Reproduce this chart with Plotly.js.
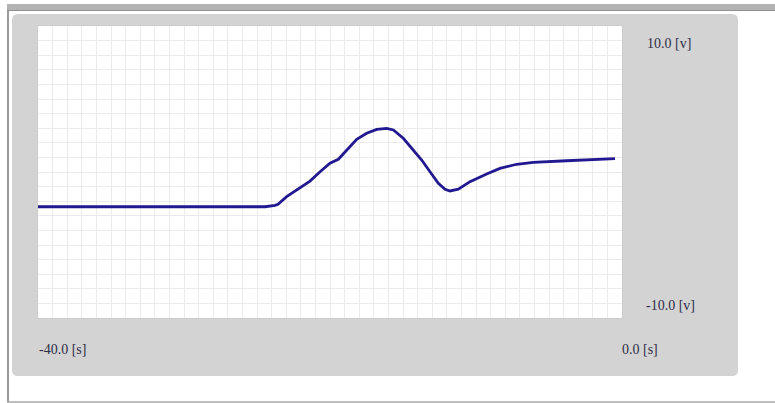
<!DOCTYPE html>
<html>
<head>
<meta charset="utf-8">
<script src="https://cdn.plot.ly/plotly-3.0.1.min.js"></script>
<style>
  html, body { margin: 0; padding: 0; background: #ffffff; }
  #chart { width: 775px; height: 403px; }
</style>
</head>
<body>
<div id="chart"></div>
<script>
// Time (s) and signal (v) values
const timeS = [-40, -24.45, -23.77, -23.56, -22.97, -22.05, -21.37, -20.68, -20.0, -19.43,
  -18.86, -18.17, -17.49, -16.8, -16.12, -15.66, -14.98, -14.29, -13.72, -13.15,
  -12.58, -12.12, -11.78, -11.21, -10.41, -9.27, -8.36, -7.21, -6.08, -3.79, -1.51, -0.48];
const signalV = [-2.38, -2.38, -2.29, -2.21, -1.69, -1.05, -0.62, 0.02, 0.60, 0.87,
  1.51, 2.24, 2.65, 2.92, 2.99, 2.88, 2.31, 1.51, 0.82, 0.02,
  -0.77, -1.18, -1.30, -1.18, -0.66, -0.14, 0.25, 0.53, 0.66, 0.77, 0.87, 0.92];

// Axis ranges and tick labels
const xRange = [-40, 0];
const yRange = [-10, 10];
const xTickLabels = ['-40.0 [s]', '0.0 [s]'];
const yTickLabels = ['10.0 [v]', '-10.0 [v]'];

// Layout geometry (pixels)
const W = 775, H = 403;
const L = 38, R = 622, T = 26, B = 318;
const px = X => (X - L) / (R - L);
const py = Y => (B - Y) / (B - T);

function roundRect(x0, y0, x1, y1, r) {
  const X0 = px(x0), X1 = px(x1), Y0 = py(y0), Y1 = py(y1);
  const rx = r / (R - L), ry = r / (B - T);
  return `M ${X0 + rx} ${Y0} L ${X1 - rx} ${Y0} Q ${X1} ${Y0} ${X1} ${Y0 - ry} ` +
         `L ${X1} ${Y1 + ry} Q ${X1} ${Y1} ${X1 - rx} ${Y1} L ${X0 + rx} ${Y1} ` +
         `Q ${X0} ${Y1} ${X0} ${Y1 + ry} L ${X0} ${Y0 - ry} Q ${X0} ${Y0} ${X0 + rx} ${Y0} Z`;
}

const shapes = [
  // top bar
  {type: 'rect', xref: 'paper', yref: 'paper', x0: px(7), x1: px(775), y0: py(11), y1: py(4),
   fillcolor: '#b3b3b3', line: {width: 0}, layer: 'below'},
  {type: 'line', xref: 'paper', yref: 'paper', x0: px(7), x1: px(775), y0: py(10.5), y1: py(10.5),
   line: {color: '#8f8f8f', width: 1}, layer: 'below'},
  // left border
  {type: 'line', xref: 'paper', yref: 'paper', x0: px(8), x1: px(8), y0: py(11), y1: py(402),
   line: {color: '#9a9a9a', width: 2}, layer: 'below'},
  // bottom border
  {type: 'line', xref: 'paper', yref: 'paper', x0: px(7), x1: px(775), y0: py(402), y1: py(402),
   line: {color: '#a8a8a8', width: 1.5}, layer: 'below'},
  // grey panel
  {type: 'path', xref: 'paper', yref: 'paper', path: roundRect(12, 14, 738, 376, 6),
   fillcolor: '#d3d3d3', line: {width: 0}, layer: 'below'},
  // white plot area
  {type: 'rect', xref: 'paper', yref: 'paper', x0: 0, x1: 1, y0: 0, y1: 1,
   fillcolor: '#ffffff', line: {width: 0}, layer: 'below'}
];

const fontSpec = {family: '"Liberation Serif", "DejaVu Serif", serif', size: 14, color: '#2e2e48'};
const annotations = [
  {text: yTickLabels[0], x: px(645), y: py(43.5), xanchor: 'left', yanchor: 'middle'},
  {text: yTickLabels[1], x: px(644), y: py(305), xanchor: 'left', yanchor: 'middle'},
  {text: xTickLabels[0], x: px(37), y: py(349.5), xanchor: 'left', yanchor: 'middle'},
  {text: xTickLabels[1], x: px(620), y: py(349.5), xanchor: 'left', yanchor: 'middle'}
].map(a => Object.assign({xref: 'paper', yref: 'paper', showarrow: false, font: fontSpec}, a));

const trace = {
  x: timeS, y: signalV, type: 'scatter', mode: 'lines',
  line: {color: '#221890', width: 2.8, shape: 'linear'},
  hoverinfo: 'skip'
};

const axisBase = {
  showgrid: true, gridcolor: '#ebebeb', gridwidth: 1, dtick: 1,
  showticklabels: false, ticks: '', zeroline: false,
  showline: true, mirror: true, linecolor: '#cccccc', linewidth: 1,
  fixedrange: true
};

const layout = {
  width: W, height: H,
  margin: {l: L, r: W - R, t: T, b: H - B, pad: 0},
  paper_bgcolor: '#ffffff',
  plot_bgcolor: 'rgba(0,0,0,0)',
  showlegend: false,
  xaxis: Object.assign({}, axisBase, {range: xRange, tick0: -40}),
  yaxis: Object.assign({}, axisBase, {range: yRange, tick0: -10}),
  shapes: shapes,
  annotations: annotations
};

Plotly.newPlot('chart', [trace], layout, {displayModeBar: false, staticPlot: true});
</script>
</body>
</html>
